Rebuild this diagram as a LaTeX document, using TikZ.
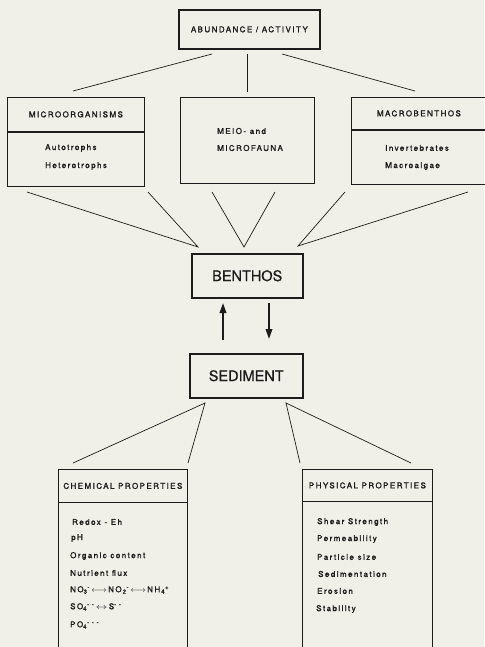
\documentclass[tikz,border=0pt]{standalone}
\usepackage{amsmath}
\usepackage{fontspec}
\setmainfont{TeX Gyre Heros}
\newfontfamily\spaced[LetterSpace=18,FakeBold=1.6]{TeX Gyre Heros}
\newfontfamily\plainbig[FakeBold=0.6]{TeX Gyre Heros}
\usetikzlibrary{calc,arrows.meta}
\definecolor{paper}{RGB}{240,240,233}
\definecolor{ink}{RGB}{28,28,28}
\newcommand{\ionf}[3]{#1$_{\text{#2}}{}^{\text{#3}}$}
\newcommand{\wayto}{\,$\longleftrightarrow$\,}

\begin{document}
\begin{tikzpicture}[x=1pt,y=-1pt,color=ink,
  box/.style={draw,line width=0.8pt,anchor=north west,inner sep=0pt,font=\spaced\fontsize{8}{10}\selectfont},
  bigbox/.style={box,line width=1.7pt},
  mainbox/.style={draw,line width=1.5pt,anchor=north west,inner sep=0pt,font=\plainbig\fontsize{14.5}{16}\selectfont},
  item/.style={anchor=west,inner sep=0pt,font=\spaced\fontsize{8}{10}\selectfont},
  link/.style={line width=0.7pt},
  flow/.style={line width=1.8pt,-{Triangle[length=10pt,width=6.5pt]}}]
\fill[paper] (0,0) rectangle (484,647);
\useasboundingbox (0,0) rectangle (484,647);

\node[bigbox,minimum width=141pt,minimum height=39pt] (top) at (178,9) {ABUNDANCE / ACTIVITY};

\node[box,minimum width=137pt,minimum height=34pt] (micro) at (7,97) {MICROORGANISMS};
\node[box,minimum width=137pt,minimum height=54pt] (microB) at (micro.south west) {};
\node[item] (auto) at (45,148) {Autotrophs};
\node[item] (hetero) at (45,166) {Heterotrophs};

\node[box,minimum width=134pt,minimum height=86pt] (meio) at (180,97) {};
\node[item] (meioA) at (217,131) {MEIO- and};
\node[item] (meioB) at (217,148) {MICROFAUNA};

\node[box,minimum width=135pt,minimum height=32pt] (macro) at (351,97) {MACROBENTHOS};
\node[box,minimum width=135pt,minimum height=54pt] (macroB) at (macro.south west) {};
\node[item] (invert) at (385,148) {Invertebrates};
\node[item] (algae) at (385,166) {Macroalgae};

\node[mainbox,minimum width=111pt,minimum height=44pt] (benthos) at (191,253) {BENTHOS};
\node[mainbox,minimum width=113pt,minimum height=44pt] (sediment) at (189,353) {SEDIMENT};

\node[box,minimum width=129pt,minimum height=33pt] (chem) at (58,469) {CHEMICAL PROPERTIES};
\draw[box] (chem.south west) -- (chem.south west |- 0,650);
\draw[box] (chem.south east) -- (chem.south east |- 0,650);
\node[item] (redox) at (72,522) {Redox - Eh};
\node[item] (ph) at (71,538) {pH};
\node[item] (organic) at (70,556) {Organic content};
\node[item] (nutrient) at (70,573) {Nutrient flux};
\node[item] (nitro) at (70,590) {\ionf{NO}{3}{-}\wayto\ionf{NO}{\,2}{-}\wayto\ionf{NH}{\,4}{+}};
\node[item] (sulf) at (70,607) {\ionf{SO}{4}{- -}\,\scalebox{1.4}[1]{$\leftrightarrow$}\,S$^{\text{- -}}$};
\node[item] (phos) at (70,625) {\ionf{PO}{4}{- - -}};

\node[box,minimum width=130pt,minimum height=32pt] (phys) at (302,469) {PHYSICAL PROPERTIES};
\draw[box] (phys.south west) -- (phys.south west |- 0,650);
\draw[box] (phys.south east) -- (phys.south east |- 0,650);
\node[item] (shear) at (317,522) {Shear Strength};
\node[item] (perm) at (317,539) {Permeability};
\node[item] (part) at (317,557) {Particle size};
\node[item] (sedim) at (318,574) {Sedimentation};
\node[item] (eros) at (317,591) {Erosion};
\node[item] (stab) at (316,609) {Stability};

\coordinate (t1) at (212,54);
\coordinate (t2) at (247,54);
\coordinate (t3) at (282,54);
\coordinate (m1) at (73,91);
\coordinate (m2) at (247,92);
\coordinate (m3) at (415,91);
\draw[link] (t1) -- (m1);
\draw[link] (t2) -- (m2);
\draw[link] (t3) -- (m3);

\coordinate (a1) at (27,192);
\coordinate (a2) at (148,192);
\coordinate (b1) at (212,192);
\coordinate (b2) at (275,192);
\coordinate (c1) at (345,192);
\coordinate (c2) at (468,192);
\coordinate (ja) at (198,247);
\coordinate (jb) at (244,247);
\coordinate (jc) at (298,246);
\draw[link] (a1) -- (ja) -- (a2);
\draw[link] (b1) -- (jb) -- (b2);
\draw[link] (c1) -- (jc) -- (c2);

\coordinate (u1) at (223,340);
\coordinate (u2) at (223,303);
\coordinate (d1) at (269,303);
\coordinate (d2) at (269,339);
\draw[flow] (u1) -- (u2);
\draw[flow] (d1) -- (d2);

\coordinate (s0) at (205,403);
\coordinate (s1) at (286,403);
\coordinate (p1) at (73,463);
\coordinate (p2) at (188,463);
\coordinate (p3) at (300,463);
\coordinate (p4) at (411,463);
\draw[link] (p1) -- (s0) -- (p2);
\draw[link] (p3) -- (s1) -- (p4);
\end{tikzpicture}
\end{document}
